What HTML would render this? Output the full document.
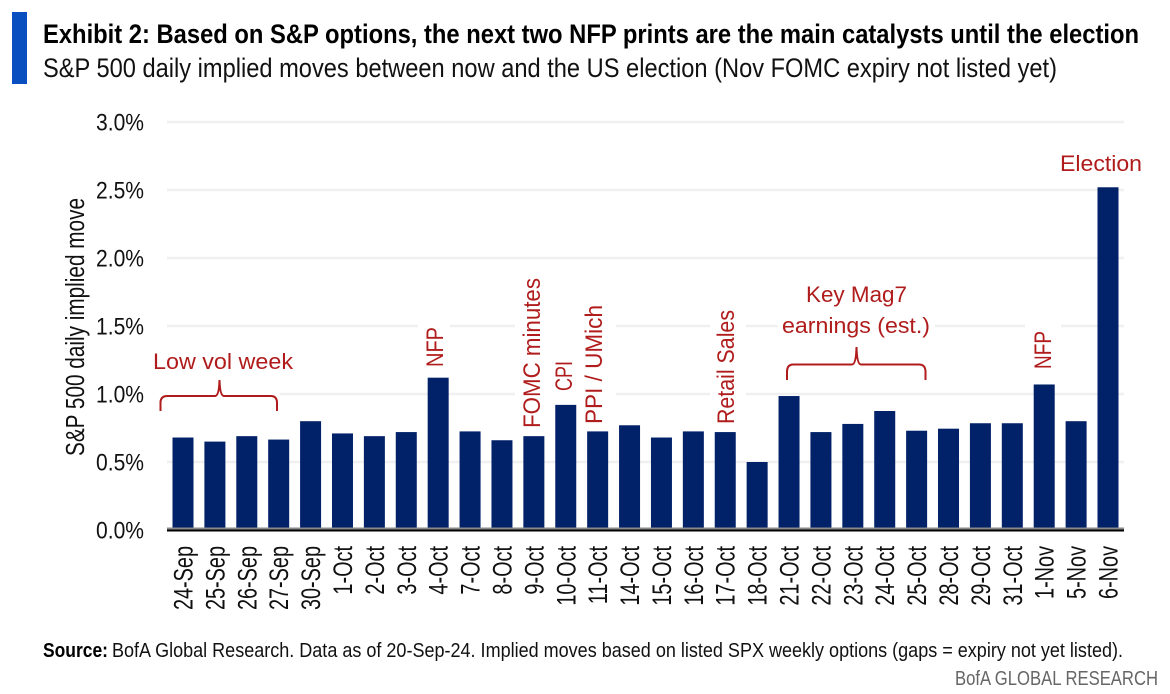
<!DOCTYPE html>
<html lang="en">
<head>
<meta charset="utf-8">
<title>Exhibit 2: S&amp;P 500 daily implied moves</title>
<style>
html,body{margin:0;padding:0;background:#fff;width:1170px;height:694px;overflow:hidden}
svg{display:block}
text{font-family:"Liberation Sans",sans-serif}
</style>
</head>
<body>
<svg id="chart" width="1170" height="694" viewBox="0 0 1170 694" xmlns="http://www.w3.org/2000/svg">
  <rect width="1170" height="694" fill="#fff"/>
  <rect x="12" y="12" width="15" height="72" fill="#0a4fc0"/>
  <text x="43" y="43" font-size="26.5" font-weight="700" fill="#000" textLength="1096" lengthAdjust="spacingAndGlyphs">Exhibit 2: Based on S&amp;P options, the next two NFP prints are the main catalysts until the election</text>
  <text x="43" y="77" font-size="27" fill="#111" textLength="1014" lengthAdjust="spacingAndGlyphs">S&amp;P 500 daily implied moves between now and the US election (Nov FOMC expiry not listed yet)</text>
  <text transform="translate(84,456) rotate(-90)" font-size="25.5" fill="#111" textLength="258" lengthAdjust="spacingAndGlyphs">S&amp;P 500 daily implied move</text>
  <g id="grid"></g>
  <g id="yticks"></g>
  <g id="masks"></g>
  <g id="bars"></g>
  <rect x="167" y="527.5" width="957" height="2" fill="#8a8a8a"/>
  <rect x="167" y="529.5" width="957" height="2" fill="#000"/>
  <g id="xticks"></g>
  <g id="notes"></g>
  <path d="M160.5 411 L160.5 402 Q161 396 167 396 L215 396 Q219 396 219.5 380 Q220 396 224 396 L271 396 Q276.5 396 277 402 L277 411" fill="none" stroke="#b01c1c" stroke-width="2"/>
  <path d="M787 380 L787 371 Q787.5 364.5 793 364.5 L852 364.5 Q856 364.5 856.5 347 Q857 364.5 861 364.5 L919 364.5 Q925 364.5 925.5 371 L925.5 380" fill="none" stroke="#b01c1c" stroke-width="2"/>
  <text x="43" y="657" font-size="20" font-weight="700" fill="#000" textLength="65" lengthAdjust="spacingAndGlyphs">Source:</text>
  <text x="112" y="657" font-size="20" fill="#111" textLength="1011" lengthAdjust="spacingAndGlyphs">BofA Global Research. Data as of 20-Sep-24. Implied moves based on listed SPX weekly options (gaps = expiry not yet listed).</text>
  <text x="955" y="685" font-size="20.5" fill="#666" textLength="203" lengthAdjust="spacingAndGlyphs">BofA GLOBAL RESEARCH</text>
</svg>
<script>
const categories = ["24-Sep","25-Sep","26-Sep","27-Sep","30-Sep","1-Oct","2-Oct","3-Oct","4-Oct","7-Oct","8-Oct","9-Oct","10-Oct","11-Oct","14-Oct","15-Oct","16-Oct","17-Oct","18-Oct","21-Oct","22-Oct","23-Oct","24-Oct","25-Oct","28-Oct","29-Oct","31-Oct","1-Nov","5-Nov","6-Nov"];
const impliedMoves = [0.68,0.65,0.69,0.665,0.80,0.71,0.69,0.72,1.12,0.725,0.66,0.69,0.92,0.725,0.77,0.68,0.725,0.72,0.50,0.985,0.72,0.78,0.875,0.73,0.745,0.785,0.785,1.07,0.80,2.52];
const yTickValues = [0,0.5,1,1.5,2,2.5,3];
const yTickLabels = ["0.0%","0.5%","1.0%","1.5%","2.0%","2.5%","3.0%"];

const SVG_NS = "http://www.w3.org/2000/svg";
const RED = "#b01c1c";
const xAxis = i => 183 + i * (1108 - 183) / (categories.length - 1);
const yAxis = v => 530 - v * 136;

function make(tag, parent, attrs) {
  const el = document.createElementNS(SVG_NS, tag);
  Object.keys(attrs).forEach(k => el.setAttribute(k, attrs[k]));
  parent.appendChild(el);
  return el;
}

const grid = document.getElementById("grid");
const yticks = document.getElementById("yticks");
yTickValues.forEach((v, i) => {
  if (v > 0) {
    const line = make("line", grid, {x1:167, x2:1124, y1:yAxis(v), y2:yAxis(v), stroke:"#f0f0f0", "stroke-width":2.5});
    
    
  }
  const t = make("text", yticks, {x:96, y:yAxis(v)+8.5, "font-size":24.5, fill:"#111", textLength:48, lengthAdjust:"spacingAndGlyphs"});
  t.textContent = yTickLabels[i];
  
  
});

const bars = document.getElementById("bars");
const xticks = document.getElementById("xticks");
categories.forEach((c, i) => {
  const top = yAxis(impliedMoves[i]);
  const r = make("rect", bars, {x:xAxis(i)-10.5, y:top, width:21, height:yAxis(0)-top, fill:"#012169"});
  
  
  const t = make("text", xticks, {transform:`translate(${xAxis(i)+9.5},546) rotate(-90) scale(.75,1)`, "text-anchor":"end", "font-size":26.5, fill:"#111"});
  t.textContent = c;
  
  
});

const masks = document.getElementById("masks");
const notes = document.getElementById("notes");
function mask(x, y, w, h) {
  const m = make("rect", masks, {x:x, y:y, width:w, height:h, fill:"#fff"});
  
  
}
function verticalNote(label, baseX, startY, len) {
  const t = make("text", notes, {transform:`translate(${baseX},${startY}) rotate(-90)`, "font-size":24, fill:RED, textLength:len, lengthAdjust:"spacingAndGlyphs"});
  t.textContent = label;
  
  
}
function horizontalNote(label, x, baseY, len) {
  const t = make("text", notes, {x:x, y:baseY, "font-size":22.5, fill:RED, textLength:len, lengthAdjust:"spacingAndGlyphs"});
  t.textContent = label;
  
  
}
mask(160, 350, 120, 64);
mask(778, 286, 157, 50);
mask(1025, 318, 36, 52);
mask(418, 318, 32, 50);
mask(515, 274, 32, 156);
mask(547, 296, 69, 130);
mask(710, 304, 36, 122);
mask(1054, 150, 92, 28);
verticalNote("NFP", 443, 367, 40);
verticalNote("FOMC minutes", 540, 428, 150);
verticalNote("CPI", 572, 391, 30);
verticalNote("PPI / UMich", 602, 424, 119);
verticalNote("Retail Sales", 734, 424, 114);
verticalNote("NFP", 1051, 369, 38);
horizontalNote("Low vol week", 153, 369, 140);
horizontalNote("Key Mag7", 806, 302, 101);
horizontalNote("earnings (est.)", 782, 333, 148);
horizontalNote("Election", 1060, 171, 82);
</script>
</body>
</html>
